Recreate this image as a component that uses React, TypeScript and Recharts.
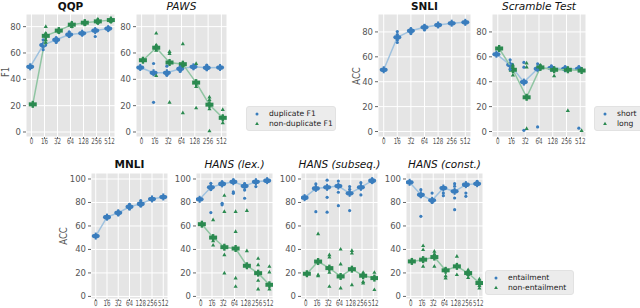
import React from 'react';
import { ScatterChart, Scatter, XAxis, YAxis, CartesianGrid } from 'recharts';

const steps = ['0', '16', '32', '64', '128', '256', '512'];

// QQP
const qqpDupMean = [49.5, 66, 70, 74, 75, 77, 78.5];
const qqpDupRuns = [[49.5], [70, 62.5, 65], [68, 71.5], [72.5, 76], [74, 76], [72.5, 78], [77.5, 79.5]];
const qqpNonMean = [21, 73, 77, 81.5, 83, 84, 85];
const qqpNonRuns = [[21], [80, 75, 68, 70], [76, 78], [80, 83], [82, 84], [83, 85.5], [84, 86]];

// PAWS
const pawsDupMean = [49, 45, 45, 48, 49.5, 48.75, 49];
const pawsDupRuns = [[49.5, 48.5], [52, 22.5, 44], [50, 43], [47, 49.5, 46], [50, 48.5], [50.75, 47.5], [49.5, 48.5]];
const pawsNonMean = [54.5, 64, 52.75, 51.5, 37.5, 20.75, 10.75];
const pawsNonRuns = [[54.5], [75, 42.75, 62, 66], [61, 59.5, 22.5], [67, 14.5, 50.5], [52, 18.25, 34.5], [26.5, 24.5, 17.5, 0.8], [17, 7, 12]];

// SNLI
const snliMean = [49.6, 75.7, 81, 83.7, 85.6, 87, 87.7];
const snliRuns = [[49.8, 49.3], [80.3, 71.5, 77.9, 73.6], [82.5, 78.7], [85, 81.6], [86.5, 84.8], [87.5], [88.3]];

// Scramble Test
const scrShortMean = [62.1, 53.6, 39.7, 50.4, 51, 50.4, 50.4];
const scrShortRuns = [[62.5], [57.6, 52.5, 50], [55.5, 51.7, 1], [54.4, 3.7, 49.5], [52.5], [52], [52, 2.7]];
const scrLongMean = [66.7, 49.6, 27.5, 51.5, 49.6, 49.6, 49];
const scrLongRuns = [[67], [53.3, 45.3, 51.7], [55, 51.7, 2.4], [53.1, 51.9], [44.8], [16.8, 50.7], [49.5, 0.8]];

// MNLI
const mnliMean = [51.4, 67.5, 71.2, 76.3, 78.8, 83, 84.7];
const mnliRuns = [[51.4], [68.2, 66.5], [69.5, 72.5], [78.5, 74.5], [81.5, 77], [83], [85]];

// HANS (lex.)
const lexEntMean = [82.7, 92.9, 95.8, 97.7, 94, 97.7, 98.6];
const lexEntRuns = [[82.7], [96.3, 71.4, 91], [97.5, 79.3, 78], [99, 89, 87.8], [90.6, 83.6, 96], [93.5, 98.5], [99.5]];
const lexNonMean = [61.5, 50.1, 41.9, 40.8, 26.1, 19.8, 9.9];
const lexNonRuns = [[61.5], [65.2, 47.3, 43.6], [86, 72.2, 35.4, 19.8], [72.2, 55.2, 15.6, 8.5], [73.1, 38.8], [32.3, 26.9, 6.2, 13.6], [25.5, 20.7, 6.2]];

// HANS (subseq.)
const subEntMean = [84.1, 92, 92.9, 94, 87.8, 92.9, 98.6];
const subEntRuns = [[84.1], [95.8, 72.2], [99, 84.4, 71.7], [98.3, 88.7, 77.3], [93.5, 91.2, 73.1], [96.9, 86.4], [99.7, 97]];
const subNonMean = [19.3, 29.7, 24.1, 17, 23.2, 17.6, 15.6];
const subNonRuns = [[19.3], [53.3, 18.4, 17.5], [35.4, 33.4, 20.4, 8.5], [40.2, 27.5, 7.1], [39.1, 36.8, 9.9], [20.4, 11.3, 12.5], [20.4, 5.7]];

// HANS (const.)
const conEntMean = [97.2, 86.6, 81.8, 92.3, 89.5, 95.2, 96];
const conEntRuns = [[97.5], [90.9, 68.2, 85], [88, 80], [88, 85.8], [96, 93.8, 83.8, 73.9], [88, 85.2], [98, 95]];
const conNonMean = [29.8, 31.3, 33.5, 22.2, 25.6, 19.9, 11.4];
const conNonRuns = [[29.8], [43.2, 39.8, 25.6], [38.4, 25.6, 36], [23.3, 17.6, 15.6], [34.1, 18.5], [22.7, 18.5, 16], [14.8, 7.1, 9.1]];

const BLUE = '#3a7dbd';
const GREEN = '#2b8a50';
const BLUE_LINE = '#9fc2df';
const GREEN_LINE = '#90c5a3';
const FONT = '"DejaVu Sans", sans-serif';

const toPoints = (vals: number[], dx: number) => vals.map((y, i) => ({ x: i + dx, y }));
const toRunPoints = (runs: number[][], dx: number) => runs.flatMap((vs, i) => vs.map((y) => ({ x: i + dx, y })));

const Dot = (props: any) => <circle cx={props.cx} cy={props.cy} r={1.6} fill={BLUE} />;
const Tri = (props: any) => {
    const { cx, cy } = props;
    const s = 2.3;
    return <path d={`M${cx},${cy - s} L${cx + s * 0.9},${cy + s * 0.6} L${cx - s * 0.9},${cy + s * 0.6}Z`} fill={GREEN} />;
};
const MeanBlue = (props: any) => {
    const { cx, cy } = props;
    return (
        <g fill={BLUE}>
            <ellipse cx={cx} cy={cy} rx={4} ry={2.3} />
            <rect x={cx - 1} y={cy - 3.5} width={2} height={7} />
        </g>
    );
};
const MeanGreen = (props: any) => {
    const { cx, cy } = props;
    return (
        <g fill={GREEN}>
            <rect x={cx - 4} y={cy - 2} width={8} height={4} />
            <rect x={cx - 1.2} y={cy - 3.5} width={2.4} height={7} />
        </g>
    );
};

// narrow step labels, squeezed like the original
const XTick = (props: any) => {
    const { x, y, payload } = props;
    return (
        <text
            transform={`translate(${x},${y + 5}) scale(0.66,1)`}
            textAnchor="middle"
            fontSize={8.4}
            fill="#555"
            fontFamily={FONT}
        >
            {steps[payload.value]}
        </text>
    );
};

interface SeriesDef {
    mean: number[];
    runs: number[][];
    kind: 'blue' | 'green';
    dx: number;
}

interface PanelProps {
    x: number;
    y: number;
    w: number;
    h: number;
    yDomain: [number, number];
    yTicks: number[];
    series: SeriesDef[];
}

const Y_W = 26;
const X_H = 12;

const Panel: React.FC<PanelProps> = ({ x, y, w, h, yDomain, yTicks, series }) => (
    <div style={{ position: 'absolute', left: x - Y_W, top: y }}>
        <ScatterChart width={w + Y_W + 2} height={h + X_H} margin={{ top: 0, right: 2, bottom: 0, left: 0 }}>
            <CartesianGrid fill="#E5E5E5" stroke="#ffffff" strokeWidth={1} />
            <XAxis
                type="number"
                dataKey="x"
                domain={[-0.42, 6.42]}
                ticks={[0, 1, 2, 3, 4, 5, 6]}
                interval={0}
                allowDataOverflow
                height={X_H}
                axisLine={false}
                tickSize={2}
                tickMargin={0}
                tickLine={{ stroke: '#666' }}
                tick={XTick}
            />
            <YAxis
                type="number"
                dataKey="y"
                domain={yDomain}
                ticks={yTicks}
                interval={0}
                allowDataOverflow
                width={Y_W}
                axisLine={false}
                tickSize={3}
                tickMargin={2}
                tickLine={{ stroke: '#666' }}
                tick={{ fontSize: 8.5, fill: '#555', fontFamily: FONT }}
            />
            {series.map((s, i) => (
                <Scatter
                    key={`m-${i}`}
                    data={toPoints(s.mean, s.dx)}
                    line={{ stroke: s.kind === 'blue' ? BLUE_LINE : GREEN_LINE, strokeWidth: 1.5 }}
                    lineType="joint"
                    shape={s.kind === 'blue' ? MeanBlue : MeanGreen}
                    isAnimationActive={false}
                />
            ))}
            {series.map((s, i) => (
                <Scatter
                    key={`r-${i}`}
                    data={toRunPoints(s.runs, s.dx)}
                    shape={s.kind === 'blue' ? Dot : Tri}
                    isAnimationActive={false}
                />
            ))}
        </ScatterChart>
    </div>
);

const Title: React.FC<{ x: number; w: number; y: number; text: string; italic?: boolean }> = ({ x, w, y, text, italic }) => (
    <div
        style={{
            position: 'absolute',
            left: x - 20,
            width: w + 40,
            top: y,
            textAlign: 'center',
            fontFamily: FONT,
            fontSize: 10.5,
            lineHeight: '12px',
            fontWeight: italic ? 'normal' : 'bold',
            fontStyle: italic ? 'italic' : 'normal',
            color: '#111',
            whiteSpace: 'nowrap',
        }}
    >
        {text}
    </div>
);

const YLabel: React.FC<{ x: number; y: number; text: string }> = ({ x, y, text }) => (
    <div
        style={{
            position: 'absolute',
            left: x - 30,
            top: y - 6,
            width: 60,
            lineHeight: '12px',
            textAlign: 'center',
            transform: 'rotate(-90deg) scale(0.8,1)',
            fontFamily: FONT,
            fontSize: 10.5,
            color: '#555',
        }}
    >
        {text}
    </div>
);

const LegendBox: React.FC<{ x: number; y: number; w: number; labels: [string, string] }> = ({ x, y, w, labels }) => (
    <div
        style={{
            position: 'absolute',
            left: x,
            top: y,
            width: w,
            height: 23,
            background: '#ececec',
            border: '1px solid #e2e2e2',
            borderRadius: 3,
            fontFamily: FONT,
            fontSize: 7.6,
            color: '#222',
        }}
    >
        <svg style={{ position: 'absolute', left: 0, top: 0 }} width={20} height={24}>
            <circle cx={10} cy={7} r={1.5} fill={BLUE} />
            <path d="M10,14.8 L11.9,18 L8.1,18Z" fill={GREEN} />
        </svg>
        <div style={{ position: 'absolute', left: 22, top: 1.5, lineHeight: '10px', whiteSpace: 'nowrap' }}>{labels[0]}</div>
        <div style={{ position: 'absolute', left: 22, top: 11.5, lineHeight: '10px', whiteSpace: 'nowrap' }}>{labels[1]}</div>
    </div>
);

const TOP_LEFT_Y: [number, number] = [-3.8, 89.6];
const TOP_RIGHT_Y: [number, number] = [-4.4, 94.4];
const BOTTOM_Y: [number, number] = [-2.2, 105.1];
const TOP_TICKS = [0, 20, 40, 60, 80];
const BOTTOM_TICKS = [0, 20, 40, 60, 80, 100];

export default function App() {
    return (
        <div style={{ position: 'absolute', left: 0, top: 0, width: 640, height: 308, background: '#fff', overflow: 'hidden' }}>
            <Panel x={26} y={14} w={89} h={123} yDomain={TOP_LEFT_Y} yTicks={TOP_TICKS}
                series={[
                    { mean: qqpDupMean, runs: qqpDupRuns, kind: 'blue', dx: -0.1 },
                    { mean: qqpNonMean, runs: qqpNonRuns, kind: 'green', dx: 0.1 },
                ]} />
            <Panel x={136} y={14} w={91} h={123} yDomain={TOP_LEFT_Y} yTicks={TOP_TICKS}
                series={[
                    { mean: pawsDupMean, runs: pawsDupRuns, kind: 'blue', dx: -0.1 },
                    { mean: pawsNonMean, runs: pawsNonRuns, kind: 'green', dx: 0.1 },
                ]} />
            <Panel x={378} y={14} w={93} h={123} yDomain={TOP_RIGHT_Y} yTicks={TOP_TICKS}
                series={[{ mean: snliMean, runs: snliRuns, kind: 'blue', dx: 0 }]} />
            <Panel x={492} y={14} w={94} h={123} yDomain={TOP_RIGHT_Y} yTicks={TOP_TICKS}
                series={[
                    { mean: scrShortMean, runs: scrShortRuns, kind: 'blue', dx: -0.1 },
                    { mean: scrLongMean, runs: scrLongRuns, kind: 'green', dx: 0.1 },
                ]} />
            <Panel x={91} y={173} w={77} h={126} yDomain={BOTTOM_Y} yTicks={BOTTOM_TICKS}
                series={[{ mean: mnliMean, runs: mnliRuns, kind: 'blue', dx: 0 }]} />
            <Panel x={196} y={173} w={77} h={126} yDomain={BOTTOM_Y} yTicks={BOTTOM_TICKS}
                series={[
                    { mean: lexEntMean, runs: lexEntRuns, kind: 'blue', dx: -0.1 },
                    { mean: lexNonMean, runs: lexNonRuns, kind: 'green', dx: 0.1 },
                ]} />
            <Panel x={301} y={173} w={77} h={126} yDomain={BOTTOM_Y} yTicks={BOTTOM_TICKS}
                series={[
                    { mean: subEntMean, runs: subEntRuns, kind: 'blue', dx: -0.1 },
                    { mean: subNonMean, runs: subNonRuns, kind: 'green', dx: 0.1 },
                ]} />
            <Panel x={406} y={173} w={77} h={126} yDomain={BOTTOM_Y} yTicks={BOTTOM_TICKS}
                series={[
                    { mean: conEntMean, runs: conEntRuns, kind: 'blue', dx: -0.1 },
                    { mean: conNonMean, runs: conNonRuns, kind: 'green', dx: 0.1 },
                ]} />

            <Title x={26} w={89} y={0} text="QQP" />
            <Title x={136} w={91} y={0} text="PAWS" italic />
            <Title x={378} w={93} y={0} text="SNLI" />
            <Title x={492} w={94} y={0} text="Scramble Test" italic />
            <Title x={91} w={77} y={158} text="MNLI" />
            <Title x={196} w={77} y={158} text="HANS (lex.)" italic />
            <Title x={301} w={77} y={158} text="HANS (subseq.)" italic />
            <Title x={406} w={77} y={158} text="HANS (const.)" italic />

            <YLabel x={5} y={72} text="F1" />
            <YLabel x={356} y={76} text="ACC" />
            <YLabel x={63} y={236} text="ACC" />

            <LegendBox x={246} y={106} w={88} labels={['duplicate F1', 'non-duplicate F1']} />
            <LegendBox x={594} y={106} w={60} labels={['short', 'long']} />
            <LegendBox x={485} y={270} w={87} labels={['entailment', 'non-entailment']} />
        </div>
    );
}
